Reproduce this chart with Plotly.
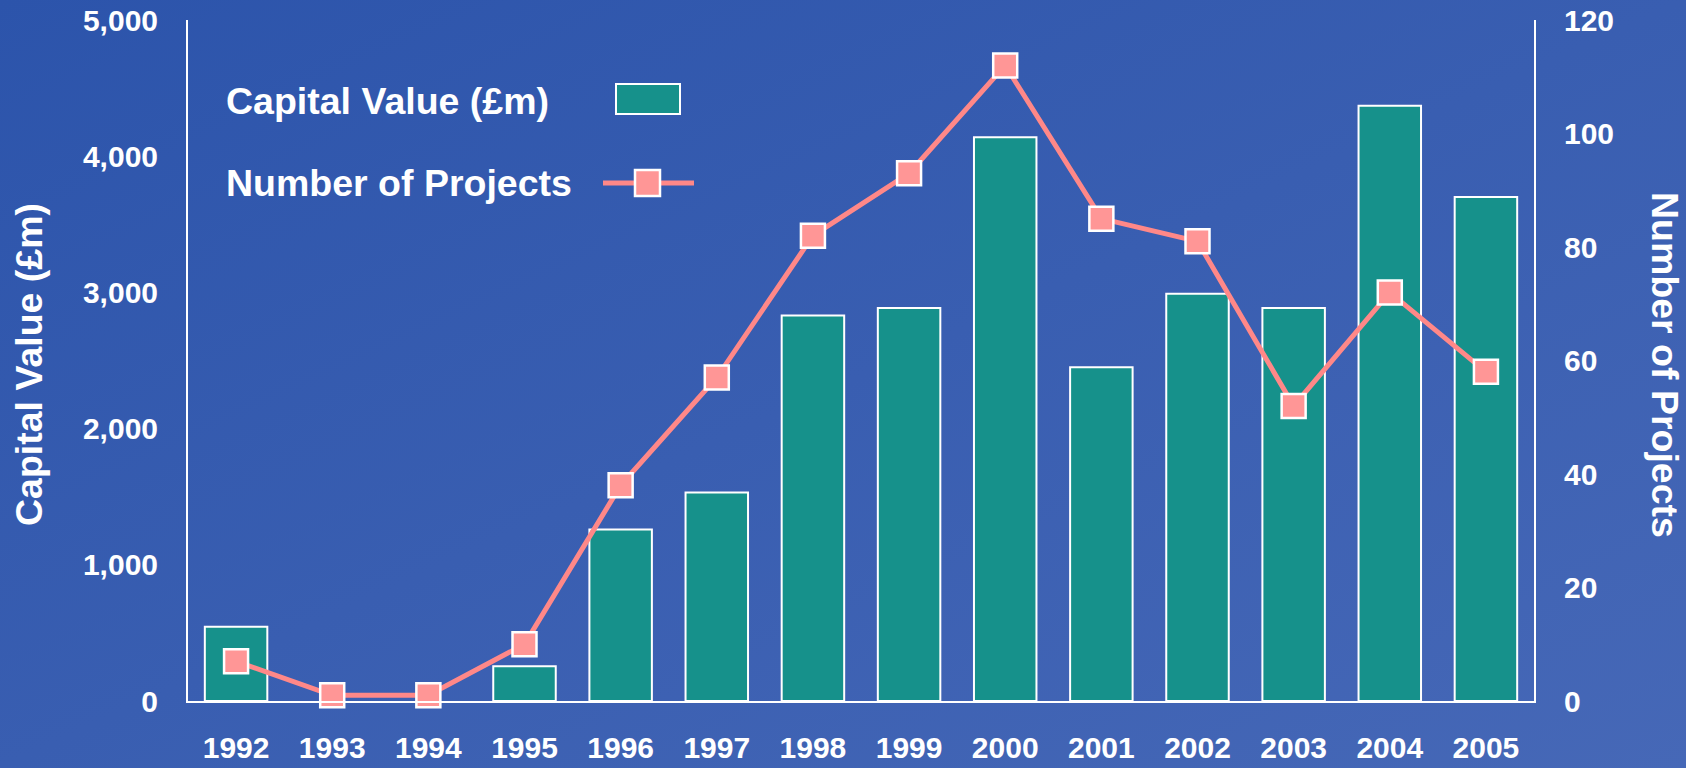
import base64
import plotly.graph_objects as go

# ---------------- data ----------------
years = ["1992", "1993", "1994", "1995", "1996", "1997", "1998",
         "1999", "2000", "2001", "2002", "2003", "2004", "2005"]
capital_value = [545, None, None, 255, 1260, 1530, 2830, 2885, 4140, 2450, 2990, 2885, 4370, 3700]
num_projects = [7, 1, 1, 10, 38, 57, 82, 93, 112, 85, 81, 52, 72, 58]
y1_ticks = [0, 1000, 2000, 3000, 4000, 5000]
y2_ticks = [0, 20, 40, 60, 80, 100, 120]

# ---------------- layout constants ----------------
W, H = 1686, 768
L, R, T, B = 188, 152, 20, 67
PW, PH = W - L - R, H - T - B

def px(x):
    return (x - L) / PW

def py(y):
    return (H - B - y) / PH

FONT = "Liberation Sans, Arial, Helvetica, sans-serif"
WHITE = "#ffffff"
BAR_COLOR = "#16918b"
LINE_COLOR = "#ff8888"
MARKER_COLOR = "#ff9696"

svg = (
    '<svg xmlns="http://www.w3.org/2000/svg" width="1686" height="768" preserveAspectRatio="none">'
    '<defs><linearGradient id="g" x1="0" y1="0" x2="1" y2="1">'
    '<stop offset="0" stop-color="#2c54ab"/><stop offset="1" stop-color="#4668b7"/>'
    '</linearGradient></defs><rect width="1686" height="768" fill="url(#g)"/></svg>'
)
bg_src = "data:image/svg+xml;base64," + base64.b64encode(svg.encode()).decode()

fig = go.Figure()

fig.add_trace(go.Bar(
    x=years, y=capital_value, name="Capital Value (£m)",
    marker=dict(color=BAR_COLOR, line=dict(color=WHITE, width=2)),
    yaxis="y",
))

fig.add_trace(go.Scatter(
    x=years, y=num_projects, name="Number of Projects",
    mode="lines+markers",
    line=dict(color=LINE_COLOR, width=5),
    marker=dict(symbol="square", size=24, color=MARKER_COLOR,
                line=dict(color=WHITE, width=2.5)),
    yaxis="y2", cliponaxis=False,
))

tickfont = dict(family=FONT, size=30, color=WHITE, weight="bold")
bigfont = dict(family=FONT, size=37.5, color=WHITE, weight="bold")

fig.update_layout(
    width=W, height=H,
    margin=dict(l=L, r=R, t=T, b=B, pad=0, autoexpand=False),
    paper_bgcolor="#3a5eb1",
    plot_bgcolor="rgba(0,0,0,0)",
    showlegend=False,
    bargap=0.35,
    xaxis=dict(
        type="category", range=[-0.5, 13.5], automargin=False,
        showline=True, linecolor=WHITE, linewidth=2,
        showgrid=False, zeroline=False,
        ticks="outside", ticklen=19, tickcolor="rgba(0,0,0,0)",
        tickfont=tickfont,
    ),
    yaxis=dict(
        range=[0, 5000], tickvals=y1_ticks, tickformat=",d", automargin=False,
        showline=True, linecolor=WHITE, linewidth=2,
        showgrid=False, zeroline=False,
        ticks="outside", ticklen=22, tickcolor="rgba(0,0,0,0)",
        tickfont=tickfont,
    ),
    yaxis2=dict(
        range=[0, 120], tickvals=y2_ticks, overlaying="y", side="right",
        automargin=False,
        showline=True, linecolor=WHITE, linewidth=2,
        showgrid=False, zeroline=False,
        ticks="outside", ticklen=22, tickcolor="rgba(0,0,0,0)",
        tickfont=tickfont,
    ),
    images=[dict(
        source=bg_src, xref="paper", yref="paper",
        x=-L / PW, y=1 + T / PH, sizex=W / PW, sizey=H / PH,
        xanchor="left", yanchor="top", sizing="stretch", layer="below",
    )],
    annotations=[
        dict(text="Capital Value (£m)", xref="paper", yref="paper",
             x=px(29), y=py(365), textangle=-90, showarrow=False,
             font=bigfont, xanchor="center", yanchor="middle"),
        dict(text="Number of Projects", xref="paper", yref="paper",
             x=px(1665), y=py(365), textangle=90, showarrow=False,
             font=bigfont, xanchor="center", yanchor="middle"),
        dict(text="Capital Value (£m)", xref="paper", yref="paper",
             x=px(224), y=py(101), showarrow=False, font=bigfont,
             xanchor="left", yanchor="middle"),
        dict(text="Number of Projects", xref="paper", yref="paper",
             x=px(224), y=py(183), showarrow=False, font=bigfont,
             xanchor="left", yanchor="middle"),
    ],
    shapes=[
        dict(type="rect", xref="paper", yref="paper",
             x0=px(616), x1=px(680), y0=py(114), y1=py(84),
             fillcolor=BAR_COLOR, line=dict(color=WHITE, width=2)),
        dict(type="line", xref="paper", yref="paper",
             x0=px(603), x1=px(694), y0=py(183), y1=py(183),
             line=dict(color=LINE_COLOR, width=5)),
        dict(type="rect", xref="paper", yref="paper",
             x0=px(635), x1=px(660), y0=py(196), y1=py(170),
             fillcolor=MARKER_COLOR, line=dict(color=WHITE, width=2.5)),
    ],
)

fig.write_html(
    "out.html",
    config={"displayModeBar": False},
    post_script="document.body.style.margin='0';document.body.style.overflow='hidden';"
                "document.documentElement.style.overflow='hidden';",
)
